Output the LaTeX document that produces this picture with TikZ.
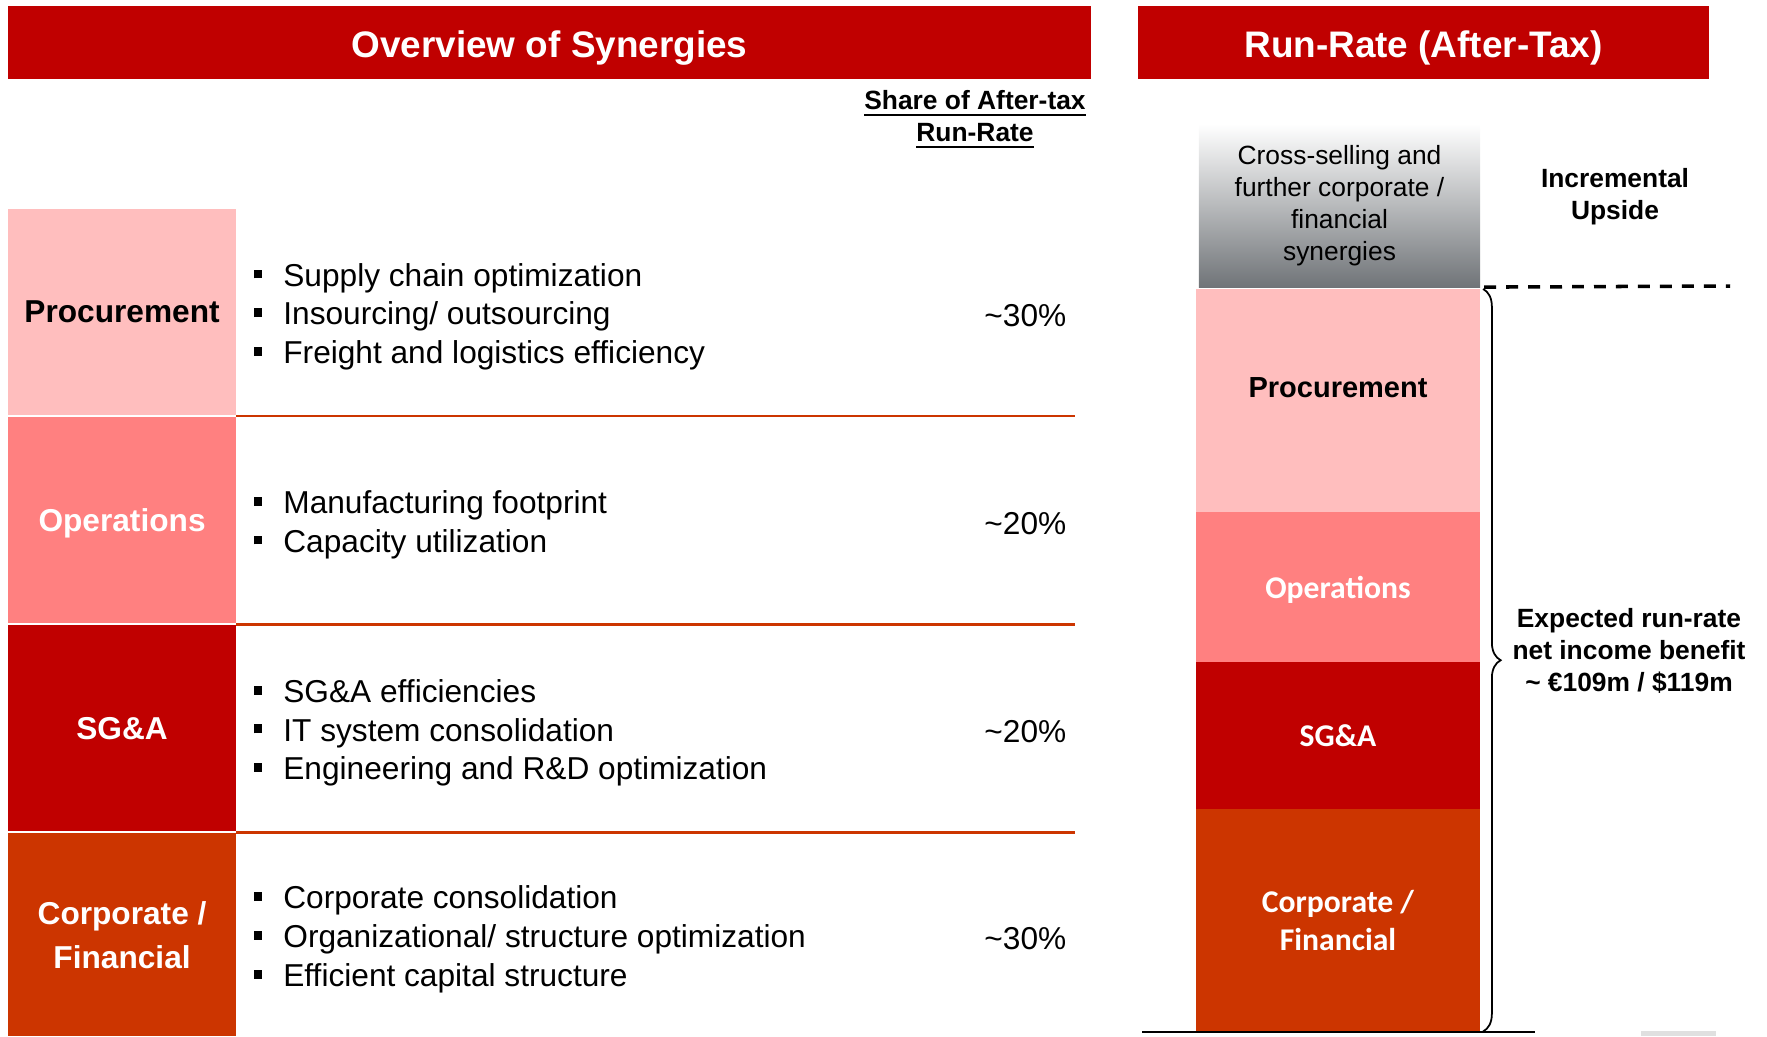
\documentclass[tikz,border=0pt]{standalone}
\usepackage{fontspec}
\setmainfont{Liberation Sans}
\newfontfamily\calfont{Carlito}
\usetikzlibrary{shapes,positioning,decorations.pathreplacing}
\definecolor{synred}{RGB}{192,0,0}
\definecolor{synpink}{RGB}{255,190,190}
\definecolor{synsalmon}{RGB}{255,128,128}
\definecolor{synorange}{RGB}{204,53,0}
\definecolor{syngray}{RGB}{112,116,120}
\newcommand{\sq}{\rule[2.2pt]{2.4pt}{2.5pt}\hspace{6pt}}
\tikzstyle{banner} = [rectangle, fill=synred, text=white, minimum height=0.73cm,
    inner sep=0pt, text height=0.29cm, text depth=0pt, font=\fontsize{10.5}{12}\selectfont\bfseries]
\tikzstyle{rowlabel} = [rectangle, minimum width=2.28cm, minimum height=2.06cm,
    inner sep=0pt, outer sep=0pt, align=center, font=\fontsize{9}{12.5}\selectfont\bfseries]
\tikzstyle{bullets} = [anchor=west, align=left, inner sep=0pt, yshift=-0.045cm, font=\fontsize{9}{11}\selectfont]
\tikzstyle{share} = [anchor=east, inner sep=0pt, yshift=-0.035cm, font=\fontsize{9}{11}\selectfont]
\tikzstyle{stack} = [rectangle, minimum width=2.84cm, inner sep=0pt, outer sep=0pt, align=center,
    text=white, font=\calfont\fontsize{9}{10.8}\selectfont\bfseries]
\tikzstyle{note} = [align=center, inner sep=0pt, font=\fontsize{7.5}{9.1}\selectfont\bfseries]
\tikzstyle{sepline} = [draw=synorange, line width=0.75pt]

\begin{document}
\begin{tikzpicture}[x=0.01cm, y=-0.01cm]
    \useasboundingbox (0,0) rectangle (1767,1036);
    % Headers
    \node [banner, minimum width=10.83cm] (ovtitle) at (549.5,42.5) {Overview of Synergies};
    \node [banner, minimum width=5.71cm] (rrtitle) at (1423.5,42.5) {Run-Rate (After-Tax)};
    \node [note] (hdr) at (975,120) {\underline{Share of After-tax}\\\underline{Run-Rate}};
    \coordinate (shareR) at (1067,0);
    \coordinate (rowend) at (1075,0);
    % Left rows
    \node [rowlabel, fill=synpink, anchor=north west] (proc) at (8,209) {Procurement};
    \node [rowlabel, fill=synsalmon, text=white, text depth=0pt, below=0.02cm of proc] (ops) {Operations};
    \node [rowlabel, fill=synred, text=white, below=0.02cm of ops] (sga) {SG\&A};
    \node [rowlabel, fill=synorange, text=white, minimum height=2.03cm, below=0.02cm of sga] (corp) {Corporate /\\Financial};
    \node [bullets, right=0.17cm of proc] (procitems) {\sq Supply chain optimization\\\sq Insourcing/ outsourcing\\\sq Freight and logistics efficiency};
    \node [bullets, right=0.17cm of ops] (opsitems) {\sq Manufacturing footprint\\\sq Capacity utilization};
    \node [bullets, right=0.17cm of sga] (sgaitems) {\sq SG\&A efficiencies\\\sq IT system consolidation\\\sq Engineering and R\&D optimization};
    \node [bullets, right=0.17cm of corp] (corpitems) {\sq Corporate consolidation\\\sq Organizational/ structure optimization\\\sq Efficient capital structure};
    \node [share] (procpct) at (proc -| shareR) {\textasciitilde30\%};
    \node [share] (opspct) at (ops -| shareR) {\textasciitilde20\%};
    \node [share] (sgapct) at (sga -| shareR) {\textasciitilde20\%};
    \node [share] (corppct) at (corp -| shareR) {\textasciitilde30\%};
    \draw [sepline] ([yshift=-0.01cm]proc.south east) -- ([yshift=-0.01cm]proc.south east -| rowend);
    \draw [sepline] ([yshift=-0.01cm]ops.south east) -- ([yshift=-0.01cm]ops.south east -| rowend);
    \draw [sepline] ([yshift=-0.01cm]sga.south east) -- ([yshift=-0.01cm]sga.south east -| rowend);
    % Run-rate stack
    \node [rectangle, minimum width=2.81cm, minimum height=1.63cm, inner sep=0pt, outer sep=0pt, align=center,
        top color=white, bottom color=syngray, font=\fontsize{7.5}{9.1}\selectfont, anchor=north]
        (rgray) at (1339.5,124) {Cross-selling and\\further corporate /\\financial\\synergies};
    \node [stack, fill=synpink, text=black, font=\fontsize{8.25}{10}\selectfont\bfseries,
        minimum height=2.23cm, text depth=0.27cm, anchor=north] (rproc) at (1338,289) {Procurement};
    \node [stack, fill=synsalmon, minimum height=1.5cm, text depth=0pt, below=0cm of rproc] (rops) {Operations};
    \node [stack, fill=synred, minimum height=1.47cm, below=0cm of rops] (rsga) {SG\&A};
    \node [stack, fill=synorange, minimum height=2.22cm, below=0cm of rsga] (rcorp) {Corporate /\\Financial};
    \node [note] (upside) at (1615,197) {Incremental\\Upside};
    \node [note] (benefit) at (1629,651) {Expected run-rate\\net income benefit\\\textasciitilde{} €109m / \$119m};
    % Rules and brace
    \coordinate (dashend) at (1730,286);
    \coordinate (baseL) at (1142,1032);
    \coordinate (baseR) at (1535,1032);
    \draw [line width=1pt, dash pattern=on 3.4pt off 2.85pt] ([xshift=0.04cm]rgray.south east) -- (dashend);
    \draw [line width=0.6pt] (baseL) -- (baseR);
    \draw [line width=0.5pt, decorate, decoration={brace, amplitude=5pt}]
        ([xshift=0.03cm]rproc.north east) -- ([xshift=0.03cm]rcorp.south east);
    \fill [black!12] (1641,1031) rectangle (1716,1036);
\end{tikzpicture}
\end{document}
